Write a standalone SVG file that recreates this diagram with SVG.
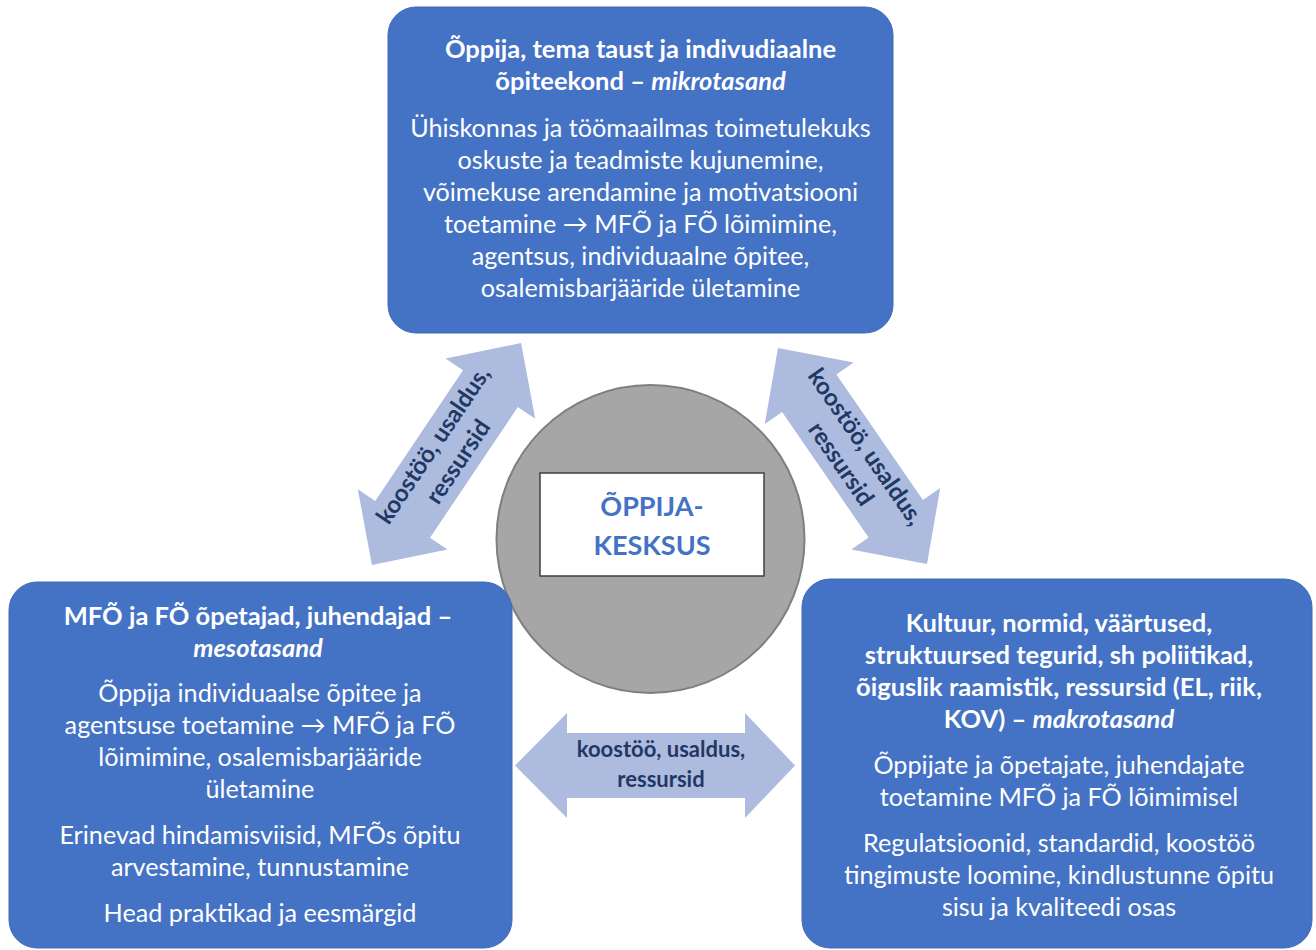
<svg xmlns="http://www.w3.org/2000/svg" width="1316" height="950" viewBox="0 0 1316 950">
<style>
.box{fill:#4472c4;stroke:#3f6bb8;stroke-width:1}
.h{font-family:Lato,"Open Sans",sans-serif;font-weight:bold;font-size:25.5px;fill:#ffffff;text-anchor:middle}
.b{font-family:Lato,"Open Sans",sans-serif;font-size:25.2px;fill:#ffffff;text-anchor:middle}
.i{font-style:italic}
.arr{fill:#adbbdf}
.at{font-family:Lato,"Open Sans",sans-serif;font-weight:bold;font-size:22px;fill:#1f3864;text-anchor:middle}
.ad{font-size:24px}
.ct{font-family:Lato,"Open Sans",sans-serif;font-weight:bold;font-size:27px;fill:#4472c4;text-anchor:middle}
</style>
<rect width="1316" height="950" fill="#ffffff"/>
<g id="connectors">
  <g id="arrow-left" transform="translate(446.5,454) rotate(-56.1)">
    <polygon class="arr" points="133.7,0 78.7,-54 78.7,-33 -78.7,-33 -78.7,-54 -133.7,0 -78.7,54 -78.7,33 78.7,33 78.7,54"/>
    <text class="at ad" x="0" y="-8">koostöö, usaldus,</text>
    <text class="at ad" x="0" y="22">ressursid</text>
  </g>
  <g id="arrow-right" transform="translate(852.5,456) rotate(55.4)">
    <polygon class="arr" points="131.2,0 76.2,-54 76.2,-33 -76.2,-33 -76.2,-54 -131.2,0 -76.2,54 -76.2,33 76.2,33 76.2,54"/>
    <text class="at ad" x="0" y="-8">koostöö, usaldus,</text>
    <text class="at ad" x="0" y="22">ressursid</text>
  </g>
  <g id="arrow-bottom">
    <polygon class="arr" points="515,765.5 567,713 567,733 745,733 745,713 795,765.5 745,818 745,798 567,798 567,818"/>
    <text class="at" x="661" y="757">koostöö, usaldus,</text>
    <text class="at" x="661" y="787">ressursid</text>
  </g>
</g>
<g id="center">
  <circle cx="650.5" cy="539" r="154" fill="#a6a6a6" stroke="#7f7f7f" stroke-width="2"/>
  <rect x="540" y="473" width="224" height="103" fill="#ffffff" stroke="#404040" stroke-width="1.5"/>
  <text class="ct" x="652" y="516">ÕPPIJA-</text>
  <text class="ct" x="652" y="555">KESKSUS</text>
</g>
<g id="micro">
  <rect class="box" x="388" y="7" width="505" height="326" rx="28"/>
  <text class="h" x="640.5" y="58">Õppija, tema taust ja indivudiaalne</text>
  <text class="h" x="640.5" y="90">õpiteekond – <tspan class="i">mikrotasand</tspan></text>
  <text class="b" x="640.5" y="137">Ühiskonnas ja töömaailmas toimetulekuks</text>
  <text class="b" x="640.5" y="169">oskuste ja teadmiste kujunemine,</text>
  <text class="b" x="640.5" y="201">võimekuse arendamine ja motivatsiooni</text>
  <text class="b" x="640.5" y="233">toetamine → MFÕ ja FÕ lõimimine,</text>
  <text class="b" x="640.5" y="265">agentsus, individuaalne õpitee,</text>
  <text class="b" x="640.5" y="297">osalemisbarjääride ületamine</text>
</g>
<g id="meso">
  <rect class="box" x="9" y="582" width="503" height="366" rx="28"/>
  <text class="h" x="258" y="625">MFÕ ja FÕ õpetajad, juhendajad –</text>
  <text class="h i" x="258" y="657">mesotasand</text>
  <text class="b" x="260" y="702">Õppija individuaalse õpitee ja</text>
  <text class="b" x="260" y="734">agentsuse toetamine → MFÕ ja FÕ</text>
  <text class="b" x="260" y="766">lõimimine, osalemisbarjääride</text>
  <text class="b" x="260" y="798">ületamine</text>
  <text class="b" x="260" y="844">Erinevad hindamisviisid, MFÕs õpitu</text>
  <text class="b" x="260" y="876">arvestamine, tunnustamine</text>
  <text class="b" x="260" y="922">Head praktikad ja eesmärgid</text>
</g>
<g id="macro">
  <rect class="box" x="802" y="579" width="510" height="369" rx="28"/>
  <text class="h" x="1059" y="632">Kultuur, normid, väärtused,</text>
  <text class="h" x="1059" y="664">struktuursed tegurid, sh poliitikad,</text>
  <text class="h" x="1059" y="696">õiguslik raamistik, ressursid (EL, riik,</text>
  <text class="h" x="1059" y="728">KOV) – <tspan class="i">makrotasand</tspan></text>
  <text class="b" x="1059" y="774">Õppijate ja õpetajate, juhendajate</text>
  <text class="b" x="1059" y="806">toetamine MFÕ ja FÕ lõimimisel</text>
  <text class="b" x="1059" y="852">Regulatsioonid, standardid, koostöö</text>
  <text class="b" x="1059" y="884">tingimuste loomine, kindlustunne õpitu</text>
  <text class="b" x="1059" y="916">sisu ja kvaliteedi osas</text>
</g>
</svg>
